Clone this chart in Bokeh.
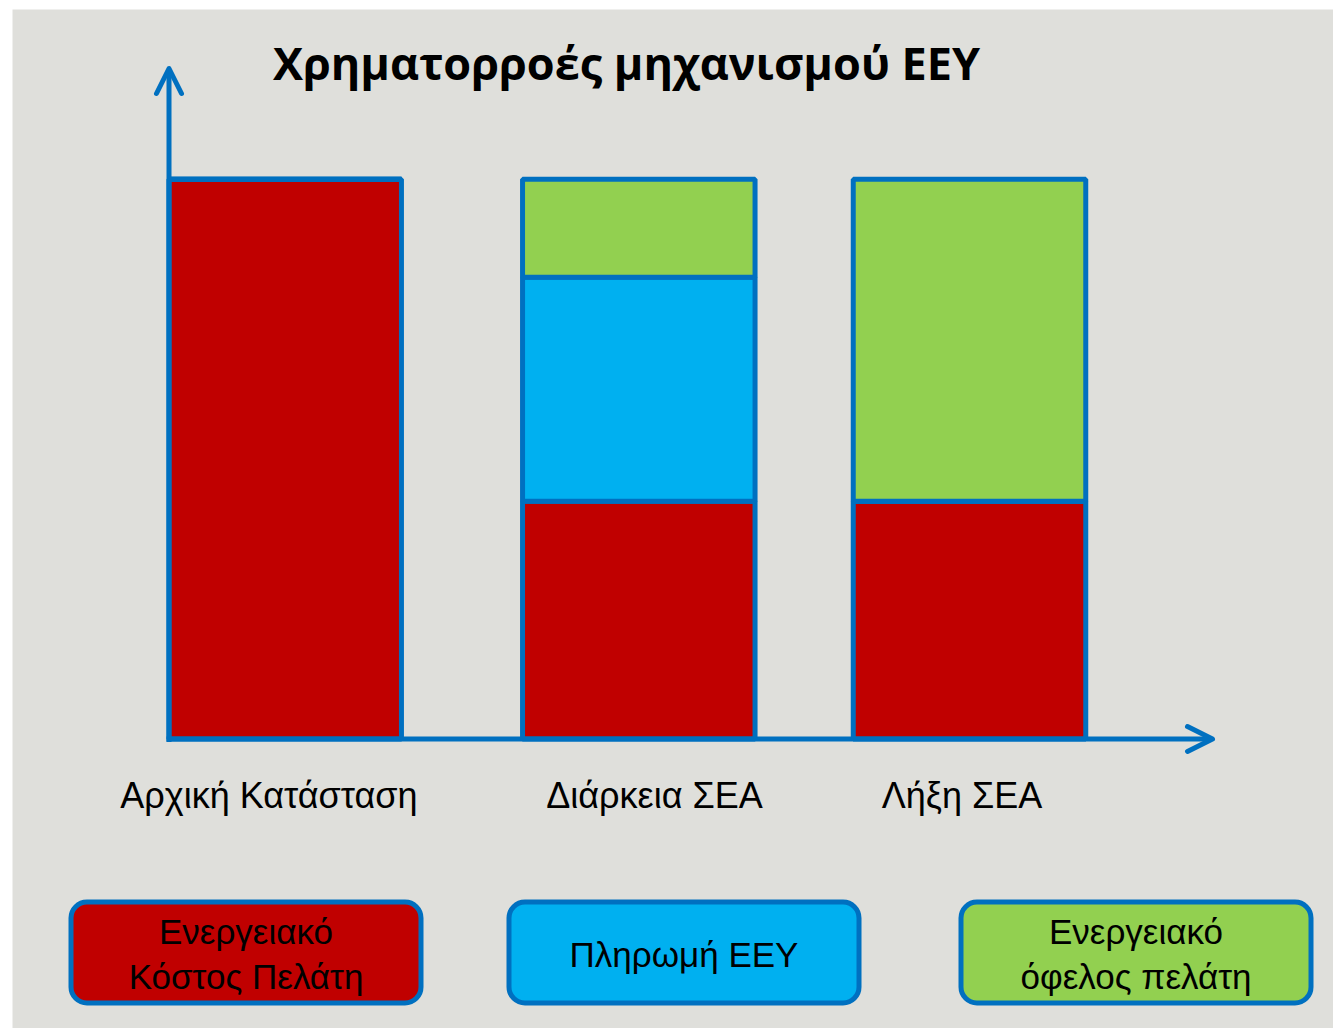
from bokeh.plotting import figure
from bokeh.models import Range1d, Arrow, OpenHead, BoxAnnotation, ColumnDataSource
from bokeh.core.properties import value
from bokeh.embed import file_html
from bokeh.resources import INLINE

# ---------------- data ----------------
title_text = "Χρηματορροές μηχανισμού ΕΕΥ"
categories = ["Αρχική Κατάσταση", "Διάρκεια ΣΕΑ", "Λήξη ΣΕΑ"]
series_names = ["Ενεργειακό Κόστος Πελάτη", "Πληρωμή ΕΕΥ", "Ενεργειακό όφελος πελάτη"]
cost = [100.0, 42.5, 42.5]       # Ενεργειακό Κόστος Πελάτη
payment = [0.0, 40.0, 0.0]       # Πληρωμή ΕΕΥ
benefit = [0.0, 17.5, 57.5]      # Ενεργειακό όφελος πελάτη
legend_lines = [["Ενεργειακό", "Κόστος Πελάτη"], ["Πληρωμή ΕΕΥ"], ["Ενεργειακό", "όφελος πελάτη"]]

# ---------------- layout / style ----------------
W, H = 1333, 1028
LEFT, TOP = 12, 9
BG = "#dfdfdb"
EDGE = "#0070c0"
COLORS = ["#c00000", "#00b0f0", "#92d050"]
FONT = "Liberation Sans"

Y0_PX = 738.5          # pixel row of value 0
PX_PER_UNIT = 5.597    # pixels per value unit


def yv(px):
    """convert a page pixel row into the value scale"""
    return (Y0_PX - px) / PX_PER_UNIT


bar_centers = [284.7, 638.3, 969.0]
bar_width = 232.5
label_centers = [268.4, 654.0, 961.5]
box_lefts = [70.5, 508.5, 960.5]
box_width = 350.0
box_top_px, box_bot_px = 901.5, 1002.5

p = figure(width=W, height=H,
           x_range=Range1d(LEFT, W), y_range=Range1d(yv(H), yv(TOP)),
           x_axis_type=None, y_axis_type=None,
           output_backend="svg", toolbar_location=None,
           min_border_left=LEFT, min_border_top=TOP,
           min_border_right=0, min_border_bottom=0,
           background_fill_color=BG, border_fill_color="white",
           outline_line_color=None)

src = ColumnDataSource(dict(x=bar_centers, cat=categories,
                            cost=cost, payment=payment, benefit=benefit))
p.vbar_stack(["cost", "payment", "benefit"], x="x", width=bar_width, source=src,
             fill_color=COLORS, line_color=EDGE, line_width=5)

# axes as arrows
head_kw = dict(size=25, line_color=EDGE, line_width=5, line_join="round", line_cap="round")
p.add_layout(Arrow(end=OpenHead(**head_kw), x_start=168.5, y_start=yv(741.5),
                   x_end=168.5, y_end=yv(68), line_color=EDGE, line_width=5))
p.add_layout(Arrow(end=OpenHead(**head_kw), x_start=166, y_start=0,
                   x_end=1212, y_end=0, line_color=EDGE, line_width=5))

# title
p.text(x=[626], y=[yv(62)], text=[title_text], text_font=value("Open Sans"),
       text_font_style="bold", text_font_size="45px", text_align="center",
       text_baseline="alphabetic", text_color="black")

# category labels
p.text(x=label_centers, y=[yv(795)] * 3, text=categories, text_font=value(FONT),
       text_font_size="36px", text_align="center", text_baseline="alphabetic",
       text_color="black")

# legend boxes
for i, (lft, col, lines) in enumerate(zip(box_lefts, COLORS, legend_lines)):
    p.add_layout(BoxAnnotation(left=lft, right=lft + box_width,
                               top=yv(box_top_px), bottom=yv(box_bot_px),
                               border_radius=16, fill_color=col, fill_alpha=1,
                               line_color=EDGE, line_width=5, line_alpha=1,
                               level="underlay"))
    cx = lft + box_width / 2
    cy = (box_top_px + box_bot_px) / 2
    if len(lines) == 1:
        ys = [yv(cy + 2)]
    else:
        ys = [yv(cy - 21), yv(cy + 24)]
    p.text(x=[cx] * len(lines), y=ys, text=lines, text_font=value(FONT),
           text_font_size="35px", text_align="center", text_baseline="alphabetic",
           text_color="black")

open("out.html", "w").write(file_html(p, INLINE))
